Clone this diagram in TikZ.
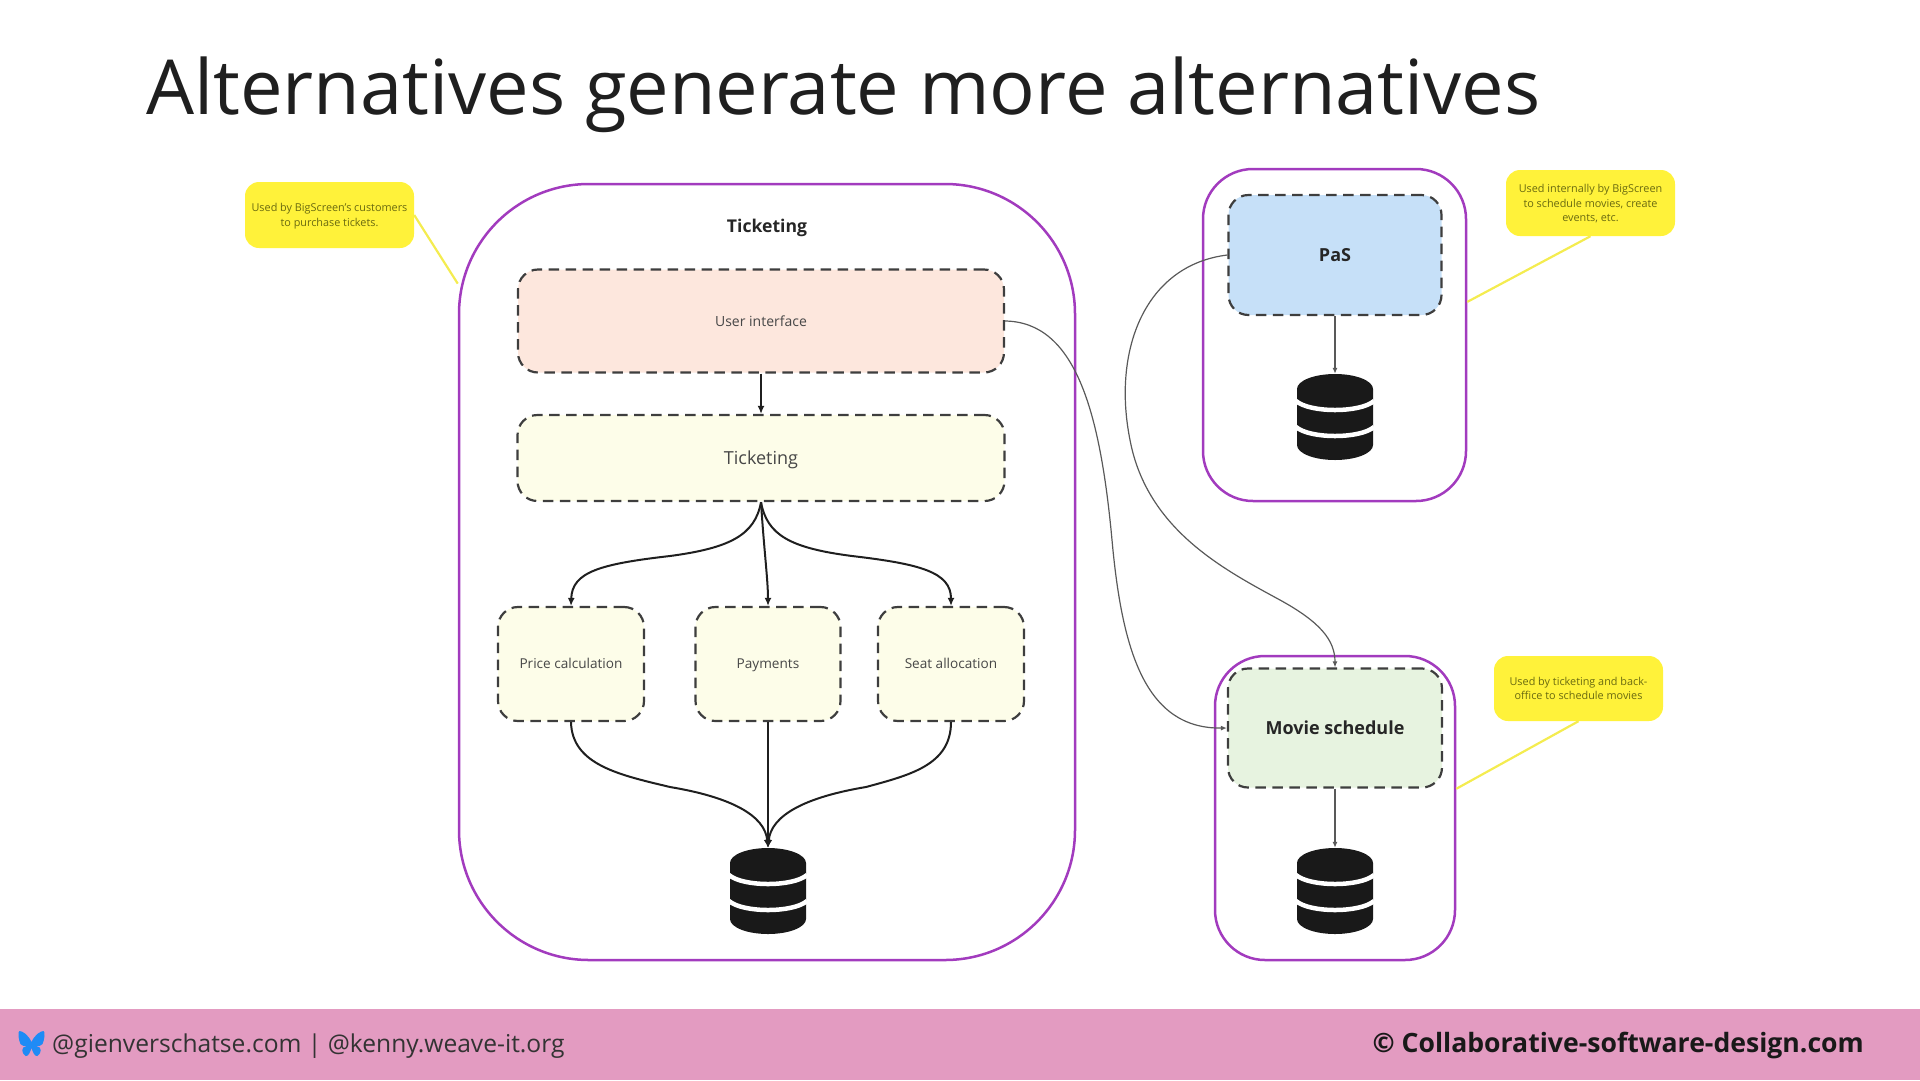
\documentclass[tikz,border=0pt]{standalone}
\usepackage{fontspec}
\setmainfont{Open Sans}
\usetikzlibrary{arrows.meta,positioning}
\definecolor{ctpurple}{HTML}{A23BBE}
\definecolor{ctyellow}{HTML}{FFF23A}
\definecolor{ctline}{HTML}{F4EC50}
\definecolor{ctnote}{HTML}{6A6A10}
\definecolor{ctdash}{HTML}{3E3E3E}
\definecolor{ctpeach}{HTML}{FDE7DD}
\definecolor{ctcream}{HTML}{FDFDE9}
\definecolor{ctblue}{HTML}{C6E0F8}
\definecolor{ctgreen}{HTML}{E7F3E0}
\definecolor{ctfooter}{HTML}{E39BC1}
\definecolor{ctbutterfly}{HTML}{1F8BF5}
\newcommand{\fsize}[1]{\fontsize{#1}{14.6}\selectfont}
\begin{document}
\begin{tikzpicture}[
  x=1pt,y=-1pt,
  group/.style={draw=ctpurple,line width=2.5pt,rounded corners=#1,inner sep=0pt},
  service/.style={draw=ctdash,line width=2.2pt,dash pattern=on 10.5pt off 6.5pt,rounded corners=20pt,inner sep=0pt,align=center,text=black!72,execute at begin node={\rule[-.24em]{0pt}{1.2em}}},
  note/.style={fill=ctyellow,rounded corners=14pt,inner sep=0pt,align=center,text=ctnote,font=\fsize{10.85},text depth=-2pt},
  noteline/.style={draw=ctline,line width=2.2pt},
  arrow/.style={-{Latex[length=8pt,width=7pt]},line width=2pt,black!88},
  thin arrow/.style={-{Latex[length=6pt,width=5pt]},line width=1.2pt,black!65},
  dbslot/.style={minimum width=77pt,minimum height=86pt,inner sep=0pt},
  dbicon/.pic={
    \fill[black!90] (-38,-28) arc[x radius=38,y radius=15,start angle=180,end angle=360]
      -- (38,28) arc[x radius=38,y radius=15,start angle=0,end angle=180] -- cycle;
    \draw[white,line width=4.5pt] (-39,-16) .. controls (-25,-4) and (25,-4) .. (39,-16);
    \draw[white,line width=4.5pt] (-39,10) .. controls (-25,22) and (25,22) .. (39,10);
  },
  butterfly/.pic={
    \fill[ctbutterfly] (0,-2) .. controls (-3,-9) and (-9,-13) .. (-12,-13)
      .. controls (-14,-13) and (-13,-4) .. (-11,0) .. controls (-10,2) and (-7,2) .. (-5,2)
      .. controls (-11,3) and (-10,9) .. (-6,12) .. controls (-3,13) and (-1,7) .. (0,4)
      .. controls (1,7) and (3,13) .. (6,12) .. controls (10,9) and (11,3) .. (5,2)
      .. controls (7,2) and (10,2) .. (11,0) .. controls (13,-4) and (14,-13) .. (12,-13)
      .. controls (9,-13) and (3,-9) .. (0,-2) -- cycle;
  }
]
\useasboundingbox (0,0) rectangle (1920,1080);
\node[fill=ctfooter,minimum width=1920pt,minimum height=71pt,inner sep=0pt] (footer) at (960,1044.5) {};
\node[anchor=base west,inner sep=0pt,font=\fsize{75.9},text=black!88] (title) at (146,114) {Alternatives generate more alternatives};

\node[group=130pt,minimum width=616pt,minimum height=776pt] (ticketingbox) at (767,572) {};
\node[group=50pt,minimum width=263pt,minimum height=332pt] (pasbox) at (1334.5,335) {};
\node[group=50pt,minimum width=240pt,minimum height=304pt] (moviebox) at (1335,808) {};

\node[font=\bfseries\fsize{17.6},text=black!85,inner sep=0pt] (ticketinglabel) at (767,228) {Ticketing};
\node[service,fill=ctpeach,minimum width=486pt,minimum height=103pt,font=\fsize{14}] (ui) at (761,321) {User interface};
\node[service,fill=ctcream,minimum width=487pt,minimum height=86pt,font=\fsize{18}] (ticketing) at (761,458) {Ticketing};
\node[service,fill=ctcream,minimum width=146pt,minimum height=114pt,font=\fsize{13.6}] (price) at (571,664) {Price calculation};
\node[service,fill=ctcream,minimum width=145pt,minimum height=114pt,font=\fsize{13.6}] (payments) at (768,664) {Payments};
\node[service,fill=ctcream,minimum width=146pt,minimum height=114pt,font=\fsize{13.6}] (seat) at (951,664) {Seat allocation};
\node[service,fill=ctblue,minimum width=213pt,minimum height=120pt,font=\bfseries\fsize{18},text=black!85] (pas) at (1335,255) {PaS};
\node[service,fill=ctgreen,minimum width=214pt,minimum height=119pt,font=\bfseries\fsize{18},text=black!85] (movie) at (1335,728) {Movie schedule};

\node[dbslot] (dbticketing) at (768,891) {};
\node[dbslot] (dbpas) at (1335,417) {};
\node[dbslot] (dbmovie) at (1335,891) {};
\pic at (dbticketing) {dbicon};
\pic at (dbpas) {dbicon};
\pic at (dbmovie) {dbicon};

\node[note,minimum width=169pt,minimum height=66pt] (noteticketing) at (329.5,215) {Used by BigScreen's customers\\to purchase tickets.};
\node[note,minimum width=169pt,minimum height=66pt] (notepas) at (1590.5,203) {Used internally by BigScreen\\to schedule movies, create\\events, etc.};
\node[note,minimum width=169pt,minimum height=65pt] (notemovie) at (1578.5,688.5) {Used by ticketing and back-\\office to schedule movies};
\draw[noteline] (noteticketing.east) -- (ticketingbox.137.5);
\draw[noteline] (notepas.south) -- (pasbox.14.9);
\draw[noteline] (notemovie.south) -- (moviebox.9.9);

\draw[arrow] (ui.south) -- (ticketing.north);
\draw[arrow] (ticketing.south) .. controls (755,535) and (730,548) .. (670,556) .. controls (600,564) and (572,572) .. (price.north);
\draw[arrow] (ticketing.south) .. controls (764,550) and (768,580) .. (payments.north);
\draw[arrow] (ticketing.south) .. controls (767,535) and (790,548) .. (852,556) .. controls (920,564) and (951,572) .. (seat.north);
\draw[arrow] (price.south) .. controls (572,765) and (620,775) .. (670,787) .. controls (730,797) and (765,815) .. (dbticketing.north);
\draw[arrow] (payments.south) -- (dbticketing.north);
\draw[arrow] (seat.south) .. controls (951,765) and (910,775) .. (866,787) .. controls (806,797) and (771,815) .. (dbticketing.north);
\draw[thin arrow] (pas.south) -- (dbpas.north);
\draw[thin arrow] (movie.south) -- (dbmovie.north);
\draw[thin arrow] (ui.east) .. controls (1075,322) and (1100,410) .. (1112,540) .. controls (1122,650) and (1145,729) .. (movie.west);
\draw[thin arrow] (pas.west) .. controls (1145,265) and (1112,350) .. (1130,440) .. controls (1147,530) and (1225,570) .. (1280,600) .. controls (1320,622) and (1335,640) .. (movie.north);

\pic at (31.5,1044) {butterfly};
\node[anchor=base west,inner sep=0pt,font=\fsize{24.6},text=black!80] (handles) at (52,1052) {@gienverschatse.com | @kenny.weave-it.org};
\node[anchor=base east,inner sep=0pt,font=\bfseries\fsize{26.6},text=black!90] (copyright) at (1864,1052) {© Collaborative-software-design.com};
\end{tikzpicture}
\end{document}
